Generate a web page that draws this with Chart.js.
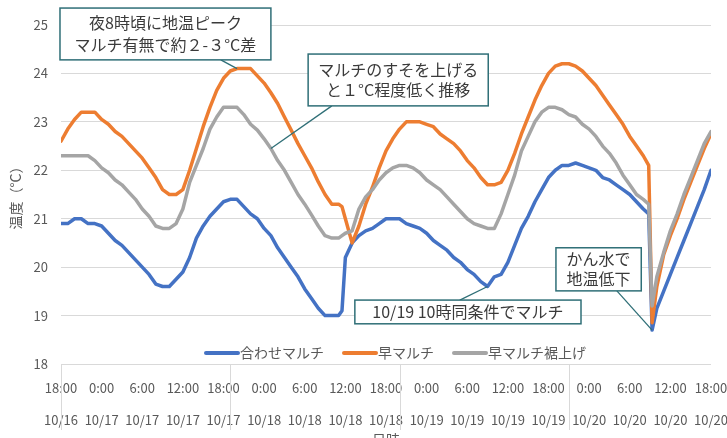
<!DOCTYPE html>
<html lang="ja">
<head>
<meta charset="utf-8">
<title>地温の推移</title>
<script src="https://cdn.jsdelivr.net/npm/chart.js@4.4.1/dist/chart.umd.min.js"></script>
<style>
  html, body { margin: 0; padding: 0; background: #ffffff; overflow: hidden; }
  #wrap { width: 727px; height: 438px; overflow: hidden; position: relative; }
  canvas { display: block; }
</style>
</head>
<body>
<div id="wrap"><canvas id="chart" width="727" height="450"></canvas></div>
<script>
// Hours elapsed since 10/16 18:00 (extra samples around the sharp changes)
const hours = [
  0, 1, 2, 3, 4, 5, 6, 7, 8, 9, 10, 11, 12, 13, 14, 15, 16, 17, 18, 19, 20,
  21, 22, 23, 24, 25, 26, 27, 28, 29, 30, 31, 32, 33, 34, 35, 36, 37, 38, 39, 40,
  41, 41.5, 42, 43, 44, 45, 46, 47, 48, 49, 50, 51, 52, 53, 54, 55, 56, 57, 58, 59, 60,
  61, 62, 63, 64, 65, 66, 67, 68, 69, 70, 71, 72, 73, 74, 75, 76, 77, 78, 79, 80,
  81, 82, 83, 84, 85, 86, 86.8, 87.3, 88, 89, 90, 91, 92, 93, 94, 95, 96
];

// 合わせマルチ (°C)
const awaseMulch = [
  20.9, 20.9, 21.0, 21.0, 20.9, 20.9, 20.85, 20.7, 20.55, 20.45, 20.3, 20.15, 20.0, 19.85, 19.65, 19.6, 19.6, 19.75, 19.9, 20.2, 20.6,
  20.85, 21.05, 21.2, 21.35, 21.4, 21.4, 21.25, 21.1, 21.0, 20.8, 20.65, 20.4, 20.2, 20.0, 19.8, 19.55, 19.35, 19.15, 19.0, 19.0,
  19.0, 19.1, 20.2, 20.5, 20.65, 20.75, 20.8, 20.9, 21.0, 21.0, 21.0, 20.9, 20.85, 20.8, 20.7, 20.55, 20.45, 20.35, 20.2, 20.1, 19.95,
  19.85, 19.7, 19.6, 19.8, 19.85, 20.1, 20.45, 20.8, 21.05, 21.35, 21.6, 21.85, 22.0, 22.1, 22.1, 22.15, 22.1, 22.05, 22.0, 21.85,
  21.8, 21.7, 21.6, 21.5, 21.35, 21.2, 21.1, 18.7, 19.15, 19.5, 19.85, 20.2, 20.55, 20.9, 21.25, 21.6, 22.0
];

// 早マルチ (°C)
const hayaMulch = [
  22.6, 22.85, 23.05, 23.2, 23.2, 23.2, 23.05, 22.95, 22.8, 22.7, 22.55, 22.4, 22.25, 22.05, 21.85, 21.6, 21.5, 21.5, 21.6, 22.0, 22.45,
  22.9, 23.3, 23.65, 23.9, 24.05, 24.1, 24.1, 24.1, 23.95, 23.8, 23.6, 23.38, 23.1, 22.83, 22.55, 22.3, 22.05, 21.76, 21.5, 21.3,
  21.3, 21.25, 21.0, 20.5, 20.85, 21.3, 21.65, 22.05, 22.4, 22.65, 22.85, 23.0, 23.0, 23.0, 22.95, 22.9, 22.75, 22.65, 22.55, 22.4, 22.2,
  22.05, 21.85, 21.7, 21.7, 21.75, 22.0, 22.35, 22.75, 23.1, 23.45, 23.75, 24.0, 24.15, 24.2, 24.2, 24.15, 24.05, 23.9, 23.75, 23.55,
  23.35, 23.15, 22.95, 22.7, 22.5, 22.3, 22.1, 18.85, 19.6, 20.25, 20.65, 21.0, 21.4, 21.75, 22.1, 22.45, 22.75
];

// 早マルチ裾上げ (°C)
const hayaMulchSusoage = [
  22.3, 22.3, 22.3, 22.3, 22.3, 22.2, 22.05, 21.95, 21.8, 21.7, 21.55, 21.4, 21.2, 21.05, 20.85, 20.8, 20.8, 20.9, 21.2, 21.75, 22.1,
  22.45, 22.85, 23.1, 23.3, 23.3, 23.3, 23.15, 22.95, 22.83, 22.65, 22.45, 22.2, 22.0, 21.75, 21.5, 21.3, 21.08, 20.85, 20.65, 20.6,
  20.6, 20.65, 20.7, 20.75, 21.2, 21.45, 21.6, 21.8, 21.95, 22.05, 22.1, 22.1, 22.05, 21.95, 21.8, 21.7, 21.6, 21.45, 21.3, 21.15, 21.0,
  20.9, 20.85, 20.8, 20.8, 21.1, 21.5, 21.9, 22.4, 22.7, 23.0, 23.2, 23.3, 23.3, 23.25, 23.15, 23.1, 22.95, 22.85, 22.7, 22.5,
  22.35, 22.15, 21.9, 21.7, 21.5, 21.4, 21.3, 19.2, 19.8, 20.3, 20.75, 21.1, 21.5, 21.85, 22.2, 22.55, 22.8
];

const seriesNames = ['合わせマルチ', '早マルチ', '早マルチ裾上げ'];

// Axis tick labels, one per 6 hours
const tickTimes = ['18:00', '0:00', '6:00', '12:00', '18:00', '0:00', '6:00', '12:00', '18:00',
                   '0:00', '6:00', '12:00', '18:00', '0:00', '6:00', '12:00', '18:00'];
const tickDates = ['10/16', '10/17', '10/17', '10/17', '10/17', '10/18', '10/18', '10/18', '10/18',
                   '10/19', '10/19', '10/19', '10/19', '10/20', '10/20', '10/20', '10/20'];

// Divider lines in the label area (hours)
const dividerHours = [0, 25, 50, 75];

const FONT = "'Noto Sans CJK JP', 'Noto Sans', sans-serif";
const TEXT = '#595959';
const GRID = '#d9d9d9';

const toPoints = vals => hours.map((h, i) => ({ x: h, y: vals[i] }));

// Callout boxes: box = [hourLeft, hourRight, tempTop, tempBottom]
const callouts = [
  { lines: ['夜8時頃に地温ピーク', 'マルチ有無で約２-３°C差'], box: [-0.15, 31.0, 25.35, 24.28], gap: 22,
    from: [23.6, 24.28], target: { series: 1, hour: 26 } },
  { lines: ['マルチのすそを上げる', 'と１°C程度低く推移'], box: [36.5, 63.1, 24.40, 23.33], gap: 20,
    from: [40.0, 23.33], target: { series: 2, hour: 31 } },
  { lines: ['10/19 10時同条件でマルチ'], box: [43.4, 76.8, 19.32, 18.83], gap: 20,
    from: [58.9, 19.32], target: { series: 0, hour: 63 } },
  { lines: ['かん水で', '地温低下'], box: [73.1, 85.7, 20.40, 19.51], gap: 20,
    from: [82.1, 19.51], target: { series: 0, hour: 87.3 } }
];

const dividerPlugin = {
  id: 'dividers',
  afterDraw(chart) {
    const { ctx, chartArea, scales: { x } } = chart;
    ctx.save();
    ctx.strokeStyle = GRID;
    ctx.lineWidth = 1;
    dividerHours.forEach(h => {
      const px = Math.round(x.getPixelForValue(h)) + 0.5;
      ctx.beginPath();
      ctx.moveTo(px, chartArea.bottom);
      ctx.lineTo(px, chartArea.bottom + 66);
      ctx.stroke();
    });
    ctx.restore();
  }
};

const calloutPlugin = {
  id: 'callouts',
  afterDatasetsDraw(chart) {
    const { ctx, scales: { x, y } } = chart;
    ctx.save();
    callouts.forEach(c => {
      const x0 = x.getPixelForValue(c.box[0]), x1 = x.getPixelForValue(c.box[1]);
      const y0 = y.getPixelForValue(c.box[2]), y1 = y.getPixelForValue(c.box[3]);
      const pt = chart.data.datasets[c.target.series].data.find(p => p.x === c.target.hour);
      const tx = x.getPixelForValue(pt.x), ty = y.getPixelForValue(pt.y);
      const fx = x.getPixelForValue(c.from[0]), fy = y.getPixelForValue(c.from[1]);

      ctx.strokeStyle = '#2f6f77';
      ctx.lineWidth = 1.3;
      ctx.beginPath();
      ctx.moveTo(fx, fy);
      ctx.lineTo(tx, ty);
      ctx.stroke();

      ctx.fillStyle = '#ffffff';
      ctx.fillRect(x0, y0, x1 - x0, y1 - y0);
      ctx.lineWidth = 1.5;
      ctx.strokeRect(x0, y0, x1 - x0, y1 - y0);

      ctx.fillStyle = '#3a3a3a';
      ctx.font = '16px ' + FONT;
      ctx.textAlign = 'center';
      ctx.textBaseline = 'middle';
      const cx = (x0 + x1) / 2, cy = (y0 + y1) / 2, n = c.lines.length;
      c.lines.forEach((t, i) => ctx.fillText(t, cx, cy + (i - (n - 1) / 2) * c.gap));
    });
    ctx.restore();
  }
};

const legendPlugin = {
  id: 'inlineLegend',
  afterDraw(chart, args, opts) {
    const ctx = chart.ctx;
    ctx.save();
    ctx.font = '14px ' + FONT;
    ctx.textAlign = 'left';
    ctx.textBaseline = 'middle';
    let px = opts.left;
    const py = opts.top;
    chart.data.datasets.forEach(ds => {
      ctx.strokeStyle = ds.borderColor;
      ctx.lineWidth = 4;
      ctx.lineCap = 'round';
      ctx.beginPath();
      ctx.moveTo(px + 2, py);
      ctx.lineTo(px + opts.lineLen, py);
      ctx.stroke();
      px += opts.lineLen + 2;
      ctx.fillStyle = TEXT;
      ctx.fillText(ds.label, px, py);
      px += ctx.measureText(ds.label).width + opts.gap;
    });
    ctx.restore();
  }
};

const lineStyle = color => ({
  borderColor: color,
  backgroundColor: color,
  borderWidth: 3.5,
  pointRadius: 0,
  tension: 0,
  fill: false,
  borderJoinStyle: 'round',
  borderCapStyle: 'round'
});

new Chart(document.getElementById('chart'), {
  type: 'line',
  data: {
    datasets: [
      { label: seriesNames[0], data: toPoints(awaseMulch), order: 2, ...lineStyle('#4472c4') },
      { label: seriesNames[1], data: toPoints(hayaMulch), order: 1, ...lineStyle('#ed7d31') },
      { label: seriesNames[2], data: toPoints(hayaMulchSusoage), order: 0, ...lineStyle('#a5a5a5') }
    ]
  },
  options: {
    responsive: false,
    animation: false,
    events: [],
    devicePixelRatio: 1,
    layout: { padding: { top: 25, right: 16, left: 0, bottom: 0 } },
    plugins: {
      legend: { display: false },
      tooltip: { enabled: false },
      inlineLegend: { left: 204, top: 353, lineLen: 34, gap: 18 }
    },
    scales: {
      x: {
        type: 'linear',
        min: 0,
        max: 96,
        grid: { display: false, drawTicks: false },
        border: { display: false },
        ticks: {
          stepSize: 6,
          autoSkip: false,
          maxRotation: 0,
          padding: 8,
          color: TEXT,
          font: { family: FONT, size: 13, lineHeight: '32px' },
          callback: v => {
            const i = Math.round(v / 6);
            return [tickTimes[i], tickDates[i]];
          }
        },
        title: {
          display: true,
          text: '日時',
          color: TEXT,
          font: { family: FONT, size: 14 },
          padding: { top: 0, bottom: 2 }
        },
        afterFit: s => { s.height = 86; s.paddingLeft = 0; s.paddingRight = 0; }
      },
      y: {
        min: 18,
        max: 25,
        grid: { color: GRID, lineWidth: 1, drawTicks: false },
        border: { display: false },
        ticks: {
          stepSize: 1,
          padding: 13,
          color: TEXT,
          font: { family: FONT, size: 13 }
        },
        title: {
          display: true,
          text: '温度（°C）',
          color: TEXT,
          font: { family: FONT, size: 14 },
          padding: { top: 7, bottom: 0 }
        },
        afterFit: s => { s.width = 61; s.paddingTop = 0; s.paddingBottom = 0; }
      }
    }
  },
  plugins: [dividerPlugin, calloutPlugin, legendPlugin]
});
</script>
</body>
</html>
